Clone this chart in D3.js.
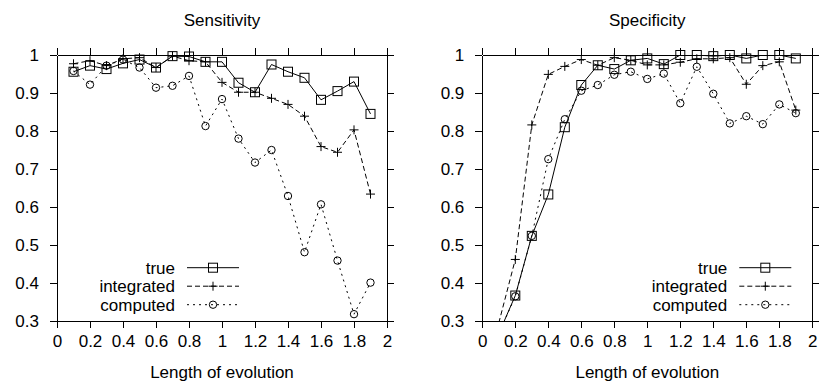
<!DOCTYPE html>
<html>
<head>
<meta charset="utf-8">
<script src="https://cdn.jsdelivr.net/npm/d3@7"></script>
<style>
  body { margin: 0; background: #fff; }
  svg text { font-family: "Liberation Sans", Arial, sans-serif; fill: #000; }
  .axis path, .axis line { stroke: #000; stroke-width: 1.2; shape-rendering: crispEdges; }
  .axis text { font-size: 17px; }
</style>
</head>
<body>
<div id="chart"></div>
<script>

// -----------------------------------------------------------------------------
// data
// -----------------------------------------------------------------------------

var lengths = [0.1, 0.2, 0.3, 0.4, 0.5, 0.6, 0.7, 0.8, 0.9, 1.0,
               1.1, 1.2, 1.3, 1.4, 1.5, 1.6, 1.7, 1.8, 1.9];

var sensTrue = [0.956, 0.972, 0.963, 0.978, 0.988, 0.967, 0.997, 0.996, 0.982, 0.982,
                0.927, 0.902, 0.975, 0.956, 0.940, 0.882, 0.905, 0.930, 0.845];
var sensIntegrated = [0.977, 0.985, 0.972, 0.990, 0.993, 0.967, 0.997, 0.985, 0.982, 0.928,
                      0.902, 0.902, 0.886, 0.870, 0.839, 0.759, 0.744, 0.803, 0.634];
var sensComputed = [0.958, 0.922, 0.972, 0.988, 0.967, 0.914, 0.919, 0.945, 0.813, 0.884,
                    0.780, 0.717, 0.750, 0.629, 0.481, 0.607, 0.459, 0.318, 0.401];

var specTrue = [0.267, 0.367, 0.524, 0.633, 0.810, 0.921, 0.973, 0.963, 0.986, 0.991,
                0.976, 1.000, 1.000, 0.997, 1.000, 0.991, 1.000, 1.000, 0.991];
var specIntegrated = [0.295, 0.462, 0.816, 0.949, 0.970, 0.988, 0.973, 0.993, 0.986, 0.974,
                      0.974, 0.981, 0.990, 0.990, 0.993, 0.923, 0.972, 0.982, 0.855];
var specComputed = [0.267, 0.365, 0.524, 0.726, 0.831, 0.906, 0.921, 0.948, 0.956, 0.937,
                    0.951, 0.873, 0.969, 0.898, 0.820, 0.839, 0.818, 0.870, 0.847];

var seriesNames = ["true", "integrated", "computed"];
var xTicks = [0, 0.2, 0.4, 0.6, 0.8, 1, 1.2, 1.4, 1.6, 1.8, 2];
var yTicks = [0.3, 0.4, 0.5, 0.6, 0.7, 0.8, 0.9, 1];
var xLabel = "Length of evolution";

// -----------------------------------------------------------------------------
// layout
// -----------------------------------------------------------------------------

var W = 819, H = 383;
var plotTop = 55, plotBottom = 321, plotWidth = 330;

var panels = [
  {title: "Sensitivity", left: 57, legendRight: 175,
   series: [sensTrue, sensIntegrated, sensComputed]},
  {title: "Specificity", left: 482.3, legendRight: 727.3,
   series: [specTrue, specIntegrated, specComputed]}
];

var dashes = [null, "5,3", "2,4"];

var svg = d3.select("#chart").append("svg")
    .attr("width", W)
    .attr("height", H);

var yScale = d3.scaleLinear()
    .domain([0.3, 1])
    .range([plotBottom, plotTop]);

function drawMarker(g, kind, x, y) {
  if (kind == 0) {
    g.append("rect")
        .attr("x", x - 4.5).attr("y", y - 4.5)
        .attr("width", 9).attr("height", 9)
        .attr("fill", "none").attr("stroke", "#000").attr("stroke-width", 1);
  } else if (kind == 1) {
    g.append("path")
        .attr("d", "M" + (x - 4.5) + "," + y + "H" + (x + 4.5) +
                   "M" + x + "," + (y - 4.5) + "V" + (y + 4.5))
        .attr("stroke", "#000").attr("stroke-width", 1);
  } else {
    g.append("circle")
        .attr("cx", x).attr("cy", y).attr("r", 3.7)
        .attr("fill", "none").attr("stroke", "#000").attr("stroke-width", 1);
  }
}

panels.forEach(function(p, pi) {
  var xScale = d3.scaleLinear()
      .domain([0, 2])
      .range([p.left, p.left + plotWidth]);

  var clipId = "clip" + pi;
  svg.append("clipPath")
      .attr("id", clipId)
    .append("rect")
      .attr("x", p.left).attr("y", plotTop)
      .attr("width", plotWidth).attr("height", plotBottom - plotTop);

  // axes (outward ticks, mirrored)
  svg.append("g")
      .attr("class", "axis")
      .attr("transform", "translate(0," + plotBottom + ")")
      .call(d3.axisBottom(xScale).tickValues(xTicks).tickSize(7).tickSizeOuter(0)
          .tickPadding(7).tickFormat(d3.format("~g")));
  svg.append("g")
      .attr("class", "axis")
      .attr("transform", "translate(0," + plotTop + ")")
      .call(d3.axisTop(xScale).tickValues(xTicks).tickSize(7).tickSizeOuter(0)
          .tickFormat(""));
  svg.append("g")
      .attr("class", "axis")
      .attr("transform", "translate(" + p.left + ",0)")
      .call(d3.axisLeft(yScale).tickValues(yTicks).tickSize(7).tickSizeOuter(0)
          .tickPadding(11).tickFormat(d3.format("~g")));
  svg.append("g")
      .attr("class", "axis")
      .attr("transform", "translate(" + (p.left + plotWidth) + ",0)")
      .call(d3.axisRight(yScale).tickValues(yTicks).tickSize(7).tickSizeOuter(0)
          .tickFormat(""));

  // titles
  svg.append("text")
      .attr("x", p.left + plotWidth / 2)
      .attr("y", 26)
      .attr("text-anchor", "middle")
      .style("font-size", "17px")
      .text(p.title);
  svg.append("text")
      .attr("x", p.left + plotWidth / 2)
      .attr("y", 378)
      .attr("text-anchor", "middle")
      .style("font-size", "17px")
      .text(xLabel);

  // series
  p.series.forEach(function(vals, si) {
    var pts = lengths.map(function(d, i) { return [d, vals[i]]; });

    var line = d3.line()
        .x(function(d) { return xScale(d[0]); })
        .y(function(d) { return yScale(d[1]); });

    svg.append("path")
        .datum(pts)
        .attr("clip-path", "url(#" + clipId + ")")
        .attr("d", line)
        .attr("fill", "none")
        .attr("stroke", "#000")
        .attr("stroke-width", 1)
        .attr("stroke-dasharray", dashes[si]);

    var mg = svg.append("g");
    pts.forEach(function(d) {
      if (d[1] < 0.3) return;
      drawMarker(mg, si, xScale(d[0]), yScale(d[1]));
    });

    // legend
    var ly = 267.7 + si * 18.5;
    svg.append("text")
        .attr("x", p.legendRight)
        .attr("y", ly)
        .attr("dy", "0.35em")
        .attr("text-anchor", "end")
        .style("font-size", "17px")
        .text(seriesNames[si]);
    svg.append("line")
        .attr("x1", p.legendRight + 12).attr("x2", p.legendRight + 64)
        .attr("y1", ly).attr("y2", ly)
        .attr("stroke", "#000")
        .attr("stroke-width", 1)
        .attr("stroke-dasharray", dashes[si]);
    drawMarker(svg, si, p.legendRight + 38, ly);
  });
});

</script>
</body>
</html>
